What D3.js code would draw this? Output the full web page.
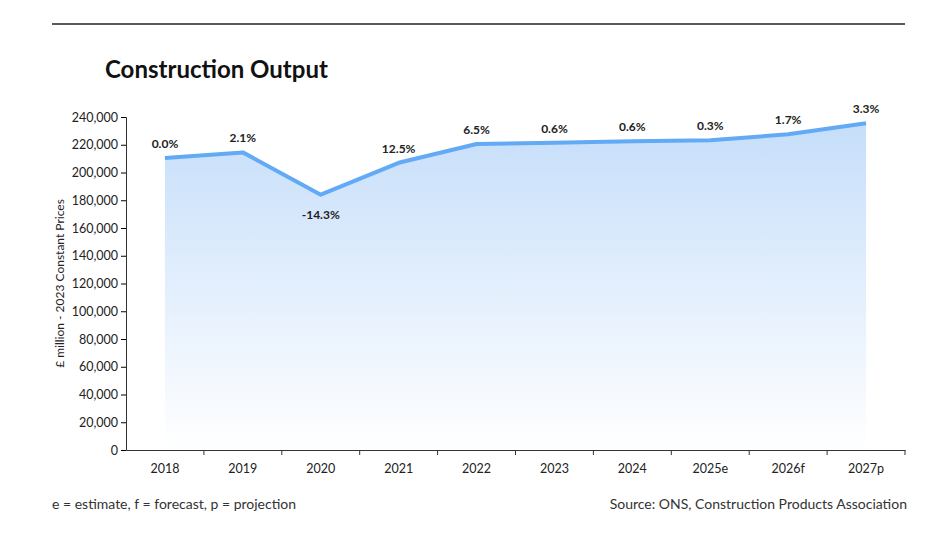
<!DOCTYPE html>
<html>
<head>
<meta charset="utf-8">
<script src="https://cdn.jsdelivr.net/npm/d3@7"></script>
<style>
body { margin: 0; background: #fff; font-family: Lato, "Open Sans", sans-serif; }
</style>
</head>
<body>
<svg id="chart" width="951" height="535"></svg>
<script>
// values
var years = ["2018", "2019", "2020", "2021", "2022", "2023", "2024", "2025e", "2026f", "2027p"];
var output = [210500, 214500, 184000, 207000, 220500, 221500, 222500, 223200, 227500, 235500];
var growth = ["0.0%", "2.1%", "-14.3%", "12.5%", "6.5%", "0.6%", "0.6%", "0.3%", "1.7%", "3.3%"];
var yTicks = d3.range(0, 240001, 20000);

var svg = d3.select("#chart");
var plotLeft = 126, plotRight = 905, plotTop = 117, plotBottom = 450;

var x = d3.scaleBand().domain(years).range([plotLeft, plotRight]);
var y = d3.scaleLinear().domain([0, 240000]).range([plotBottom, plotTop]);

svg.append("line").attr("x1", 52).attr("x2", 905).attr("y1", 24).attr("y2", 24)
    .attr("stroke", "#222").attr("stroke-width", 1.5);

svg.append("text").attr("x", 105).attr("y", 78).text("Construction Output")
    .attr("font-size", 24).attr("font-weight", "bold").attr("fill", "#111");

var grad = svg.append("defs").append("linearGradient").attr("id", "fade")
    .attr("x1", 0).attr("x2", 0).attr("y1", 0).attr("y2", 1);
grad.append("stop").attr("offset", "0%").attr("stop-color", "#c6defa");
grad.append("stop").attr("offset", "100%").attr("stop-color", "#ffffff");

var pts = years.map(function(d, i) { return { k: d, v: output[i], g: growth[i] }; });
var cx = function(d) { return x(d.k) + x.bandwidth() / 2; };

svg.append("path").datum(pts)
    .attr("d", d3.area().x(cx).y0(y(0)).y1(function(d) { return y(d.v); }))
    .attr("fill", "url(#fade)");

svg.append("path").datum(pts)
    .attr("d", d3.line().x(cx).y(function(d) { return y(d.v); }))
    .attr("fill", "none").attr("stroke", "#62aaf5").attr("stroke-width", 4)
    .attr("stroke-linejoin", "round");

// axes
svg.append("g").attr("transform", "translate(" + plotLeft + ",0)")
    .call(d3.axisLeft(y).tickValues(yTicks).tickFormat(d3.format(",")).tickSize(5));
var xa = svg.append("g").attr("transform", "translate(0," + plotBottom + ")")
    .call(d3.axisBottom(x).tickSize(0).tickPadding(14));
xa.selectAll(".sep").data(years.slice(1)).enter().append("line")
    .attr("x1", function(d) { return x(d); }).attr("x2", function(d) { return x(d); })
    .attr("y1", 0).attr("y2", 5).attr("stroke", "#333");
xa.append("line").attr("x1", plotRight).attr("x2", plotRight).attr("y1", 0).attr("y2", 5).attr("stroke", "#333");
svg.selectAll(".tick text").attr("font-family", "Lato, sans-serif").attr("font-size", 12.5).attr("fill", "#222");
svg.selectAll(".domain").attr("stroke", "#333");

svg.append("text").attr("transform", "translate(64," + ((plotTop + plotBottom) / 2) + ") rotate(-90)")
    .attr("text-anchor", "middle").attr("font-size", 12).attr("fill", "#222")
    .text("£ million - 2023 Constant Prices");

svg.selectAll(".lbl").data(pts).enter().append("text")
    .attr("x", cx)
    .attr("y", function(d) { return d.k === "2020" ? y(d.v) + 24 : y(d.v) - 10; })
    .attr("text-anchor", "middle").attr("font-size", 12).attr("font-weight", "bold").attr("fill", "#222")
    .text(function(d) { return d.g; });

svg.append("text").attr("x", 52).attr("y", 509).attr("font-size", 14).attr("fill", "#333")
    .text("e = estimate, f = forecast, p = projection");
svg.append("text").attr("x", 907).attr("y", 509).attr("text-anchor", "end").attr("font-size", 14).attr("fill", "#333")
    .text("Source: ONS, Construction Products Association");
</script>
</body>
</html>
